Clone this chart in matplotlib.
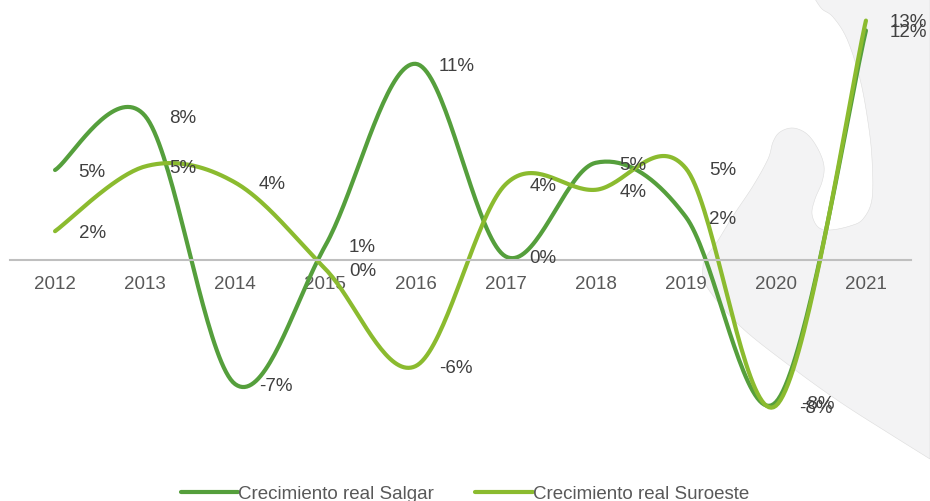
import numpy as np
import matplotlib
matplotlib.use('Agg')
import matplotlib.pyplot as plt
from matplotlib.patches import Polygon

plt.rcParams['font.family'] = ['Liberation Sans', 'DejaVu Sans']

years = ['2012', '2013', '2014', '2015', '2016', '2017', '2018', '2019', '2020', '2021']
salgar = [5.0, 8.0, -6.9, 0.8, 10.9, 0.2, 5.4, 2.4, -7.9, 12.75]
suroeste = [1.6, 5.2, 4.3, -0.5, -5.9, 4.2, 3.9, 5.1, -8.1, 13.3]
salgar_labels = ['5%', '8%', '-7%', '1%', '11%', '0%', '5%', '2%', '-8%', '12%']
suroeste_labels = ['2%', '5%', '4%', '0%', '-6%', '4%', '4%', '5%', '-8%', '13%']

# silhouette behind the chart, in image pixels
map_x = [815, 822, 833, 847, 860, 868, 872, 872, 863, 850, 830, 818, 812, 815, 822, 824, 818, 807,
         793, 780, 773, 768, 753, 733, 717, 708, 703, 707, 740, 790, 840, 890, 930]
map_y = [0, 10, 18, 40, 80, 123, 160, 200, 220, 227, 231, 228, 215, 200, 183, 167, 150, 135,
         129, 133, 143, 160, 187, 217, 243, 255, 267, 288, 327, 367, 403, 435, 460]

dark = '#559f3c'
light = '#8bbb2f'
W, H = 930, 502
FS = 13.5


def smooth(x, y, n=40):
    # same idea as the smoothed lines of a spreadsheet chart
    x = np.asarray(x, float)
    y = np.asarray(y, float)
    px = np.r_[x[0], x, x[-1]]
    py = np.r_[y[0], y, y[-1]]
    out_x, out_y = [], []
    t = np.linspace(0, 1, n)
    for i in range(1, len(px) - 2):
        for p, out in ((px, out_x), (py, out_y)):
            a, b = p[i], p[i + 1]
            c1 = a + (p[i + 1] - p[i - 1]) / 6
            c2 = b - (p[i + 2] - p[i]) / 6
            out.append((1 - t) ** 3 * a + 3 * (1 - t) ** 2 * t * c1 + 3 * (1 - t) * t ** 2 * c2 + t ** 3 * b)
    return np.concatenate(out_x), np.concatenate(out_y)


fig = plt.figure(figsize=(W / 100, H / 100), dpi=100, facecolor='white')

bg = fig.add_axes([0, 0, 1, 1], zorder=0)
bg.set_xlim(0, W)
bg.set_ylim(H, 0)
bg.axis('off')
mx, my = smooth(map_x, map_y, 8)
bg.add_patch(Polygon(np.c_[np.r_[mx, W], np.r_[my, 0]], closed=True, facecolor='#f3f3f4',
                     edgecolor='#dcdcdc', linewidth=0.4))

ax = fig.add_axes([10 / W, (H - 440) / H, 901 / W, 440 / H], zorder=1)
ax.patch.set_alpha(0)
ax.set_xlim(-0.5, 9.5)
ax.set_ylim(-179 / 18, 261 / 18)

idx = np.arange(len(years))
for values, color, name in ((salgar, dark, 'Crecimiento real Salgar'), (suroeste, light, 'Crecimiento real Suroeste')):
    sx, sy = smooth(idx, values)
    ax.plot(sx, sy, color=color, lw=3, solid_capstyle='round', label=name, clip_on=False)

for values, texts in ((salgar, salgar_labels), (suroeste, suroeste_labels)):
    for i, (v, s) in enumerate(zip(values, texts)):
        dx = 17
        if values is salgar and i == 8:
            dx += 1.5  # the two -8% do not start at the same place
        ax.annotate(s, (i, v), xytext=(dx, -1), textcoords='offset points', ha='left', va='center',
                    fontsize=FS, color='#404040', annotation_clip=False)

for side in ('top', 'left', 'right'):
    ax.spines[side].set_visible(False)
ax.spines['bottom'].set_position(('data', 0))
ax.spines['bottom'].set_color('#bfbfbf')
ax.spines['bottom'].set_linewidth(1.5)
ax.set_yticks([])
ax.set_xticks(idx)
ax.set_xticklabels(years, fontsize=FS, color='#595959')
ax.tick_params(axis='x', length=0, pad=10.5)

fig.legend(*ax.get_legend_handles_labels(), loc='center', bbox_to_anchor=(465 / W, (H - 494.5) / H), ncol=2,
           frameon=False, fontsize=FS, labelcolor='#595959', handlelength=3.05, handletextpad=0.0,
           columnspacing=2.2, borderpad=0)

fig.savefig('out.png', dpi=100)
